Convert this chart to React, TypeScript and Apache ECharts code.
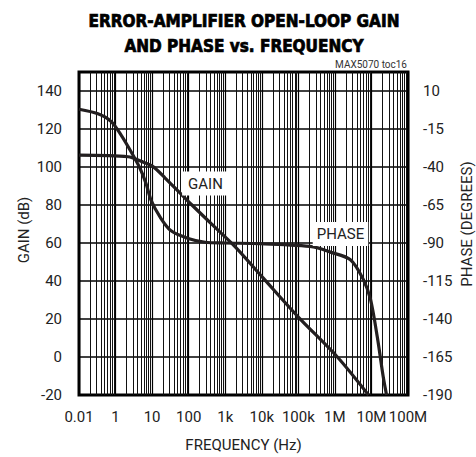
import React, { useEffect, useRef } from "react";
import * as echarts from "echarts";

const xTickLabels = ["0.01", "1", "10", "100", "1k", "10k", "100k", "1M", "10M", "100M"];
const gainFreq = [0.1, 2.2, 5, 10.6, 22.7, 51.5, 117, 413, 1880, 11000, 100000, 1170000, 8300000];
const gainDb = [106.2, 105.4, 103, 100.2, 94.2, 87.3, 80.4, 70.2, 58, 41.5, 21, 0, -20];
const phaseFreq = [0.1, 0.33, 0.75, 1.42, 2.66, 4.69, 6.85, 9.4, 16.6, 33, 97, 283, 1000, 9100, 257000, 753000, 2660000, 6000000, 9400000, 14500000, 21000000, 25900000];
const phaseDeg = [-2, -5, -10, -19, -30, -41, -51, -62, -73, -82, -87, -89.5, -90, -90.5, -92.5, -96, -101, -114, -127, -152, -178, -190];

const NARROW = "Roboto, 'DejaVu Sans Condensed', sans-serif";
const HEAVY = "'DejaVu Sans Condensed', 'DejaVu Sans', sans-serif";

export default function App() {
  const ref = useRef<HTMLDivElement>(null);
  useEffect(() => {
    if (!ref.current) return;
    const chart = echarts.init(ref.current, null, { renderer: "svg" });
    const minorLines: { xAxis: number }[] = [];
    for (let k = -1; k <= 7; k++) {
      for (let d = 2; d <= 9; d++) minorLines.push({ xAxis: d * Math.pow(10, k) });
    }
    const curveColor = "#231f20";
    const titleStyle = {
      fontFamily: HEAVY,
      fontWeight: "bold",
      fontSize: 17,
      fill: "#000",
      stroke: "#000",
      lineWidth: 0.7,
      align: "center",
      verticalAlign: "middle",
    };
    chart.setOption({
      animation: false,
      backgroundColor: "#fff",
      grid: {
        left: 79,
        right: 68,
        top: 72,
        bottom: 56,
        show: true,
        borderColor: "#000",
        borderWidth: 3,
        backgroundColor: "transparent",
        z: 4,
      },
      xAxis: {
        type: "log",
        logBase: 10,
        min: 0.1,
        max: 1e8,
        name: "FREQUENCY (Hz)",
        nameLocation: "middle",
        nameGap: 42,
        nameTextStyle: { fontFamily: NARROW, fontSize: 15, color: "#222" },
        axisLine: { show: false },
        axisTick: { show: false },
        axisLabel: {
          fontFamily: NARROW,
          fontSize: 15,
          color: "#222",
          margin: 14,
          formatter: (v: number) => xTickLabels[Math.round(Math.log10(v)) + 1] ?? "",
        },
        splitLine: { show: true, lineStyle: { color: "#000", width: 1.2 } },
      },
      yAxis: [
        {
          type: "value",
          min: -20,
          max: 150,
          interval: 20,
          axisLine: { show: false },
          axisTick: { show: false },
          axisLabel: {
            fontFamily: NARROW,
            fontSize: 15,
            color: "#222",
            margin: 17,
            showMaxLabel: false,
          },
          splitLine: { show: true, lineStyle: { color: "#000", width: 1.5 } },
        },
        {
          type: "value",
          min: -190,
          max: 22.5,
          interval: 25,
          position: "right",
          axisLine: { show: false },
          axisTick: { show: false },
          axisLabel: {
            fontFamily: NARROW,
            fontSize: 15,
            color: "#222",
            margin: 15,
            showMaxLabel: false,
          },
          splitLine: { show: false },
        },
      ],
      series: [
        {
          type: "line",
          name: "grid",
          data: [],
          z: 1,
          silent: true,
          markLine: {
            silent: true,
            symbol: "none",
            label: { show: false },
            lineStyle: { color: "#111", width: 1, type: "solid" },
            data: minorLines,
          },
        },
        {
          type: "line",
          name: "GAIN",
          yAxisIndex: 0,
          data: gainFreq.map((f, i) => [f, gainDb[i]]),
          showSymbol: false,
          smooth: 0.3,
          lineStyle: { color: curveColor, width: 3.2 },
          z: 5,
        },
        {
          type: "line",
          name: "PHASE",
          yAxisIndex: 1,
          data: phaseFreq.map((f, i) => [f, phaseDeg[i]]),
          showSymbol: false,
          smooth: 0.3,
          lineStyle: { color: curveColor, width: 3.2 },
          z: 5,
        },
      ],
      graphic: [
        {
          type: "text",
          x: 244,
          y: 21,
          style: { ...titleStyle, text: "ERROR-AMPLIFIER OPEN-LOOP GAIN" },
        },
        {
          type: "text",
          x: 244,
          y: 46,
          style: { ...titleStyle, text: "AND PHASE vs. FREQUENCY" },
        },
        {
          type: "text",
          x: 407,
          y: 64,
          style: {
            text: "MAX5070 toc16",
            fontFamily: NARROW,
            fontSize: 10,
            fill: "#333",
            align: "right",
            verticalAlign: "middle",
          },
        },
        {
          type: "text",
          x: 24,
          y: 230,
          rotation: Math.PI / 2,
          style: {
            text: "GAIN (dB)",
            fontFamily: NARROW,
            fontSize: 15,
            fill: "#222",
            align: "center",
            verticalAlign: "middle",
          },
        },
        {
          type: "text",
          x: 467,
          y: 224,
          rotation: Math.PI / 2,
          style: {
            text: "PHASE (DEGREES)",
            fontFamily: NARROW,
            fontSize: 15,
            fill: "#222",
            align: "center",
            verticalAlign: "middle",
          },
        },
        {
          type: "text",
          x: 205.5,
          y: 183.5,
          z: 10,
          style: {
            text: "GAIN",
            fontFamily: NARROW,
            fontSize: 15,
            fill: "#222",
            align: "center",
            verticalAlign: "middle",
            backgroundColor: "#fff",
            padding: [5, 6, 4, 6],
          },
        },
        {
          type: "text",
          x: 340.5,
          y: 234,
          z: 10,
          style: {
            text: "PHASE",
            fontFamily: NARROW,
            fontSize: 15,
            fill: "#222",
            align: "center",
            verticalAlign: "middle",
            backgroundColor: "#fff",
            padding: [5, 4, 4, 4],
          },
        },
      ],
    });
    return () => chart.dispose();
  }, []);
  return (
    <div
      ref={ref}
      style={{ position: "fixed", left: 0, top: 0, width: 476, height: 457, background: "#fff" }}
    />
  );
}
